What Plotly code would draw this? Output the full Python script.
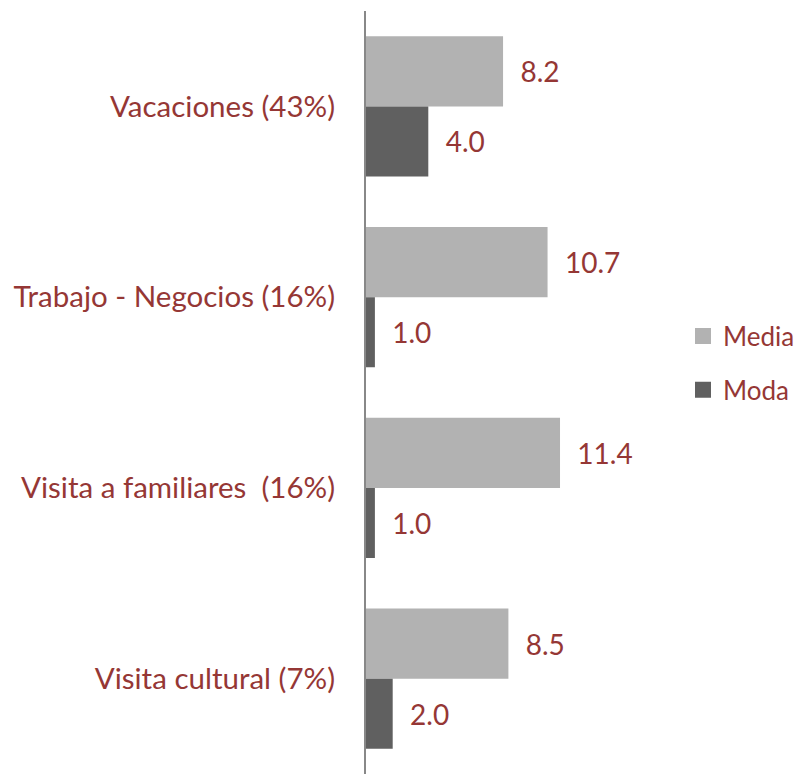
import plotly.graph_objects as go

categories = ["Vacaciones (43%)", "Trabajo - Negocios (16%)", "Visita a familiares  (16%)", "Visita cultural (7%)"]
media = [8.2, 10.7, 11.4, 8.5]
moda = [4.0, 1.0, 1.0, 2.0]

RED = "#953735"
C_MEDIA = "#b2b2b2"
C_MODA = "#606060"
FONT = "Lato"
FS = 28
FS_TICK = 29.5
FS_LEG = 26

W, H = 800, 766          # page body has an 8px margin
L, R, T = 358, 0, 3
PW = W - L - R
PXU = 17.8
XMIN = 0.5
XMAX = XMIN + PW / PXU

fig = go.Figure()
fig.add_trace(go.Bar(
    y=categories, x=media, orientation="h", name="Media",
    marker=dict(color=C_MEDIA, line=dict(width=0)),
    text=["\u00a0\u00a0" + f"{v:.1f}" for v in media], textposition="outside",
    textfont=dict(color=RED, size=FS, family=FONT), cliponaxis=False,
    showlegend=False,
))
fig.add_trace(go.Bar(
    y=categories, x=moda, orientation="h", name="Moda",
    marker=dict(color=C_MODA, line=dict(width=0)),
    text=["\u00a0\u00a0" + f"{v:.1f}" for v in moda], textposition="outside",
    textfont=dict(color=RED, size=FS, family=FONT), cliponaxis=False,
    showlegend=False,
))
for name, col in [("Media", C_MEDIA), ("Moda", C_MODA)]:
    fig.add_trace(go.Scatter(
        x=[None], y=[None], mode="markers", name=name, legendgroup=name,
        marker=dict(symbol="square", size=18, color=col),
    ))

fig.update_layout(
    width=W, height=H,
    margin=dict(l=L, r=R, t=T, b=0, autoexpand=False),
    paper_bgcolor="white", plot_bgcolor="white",
    barmode="group", bargap=0.266, bargroupgap=0,
    font=dict(family=FONT, size=FS, color=RED),
    showlegend=True,
    legend=dict(x=(675 - L) / PW, xanchor="left", y=(H - 355) / (H - T), yanchor="middle",
                traceorder="grouped", tracegroupgap=17,
                font=dict(size=FS_LEG, color=RED, family=FONT),
                bgcolor="rgba(0,0,0,0)"),
)
fig.update_xaxes(range=[XMIN, XMAX], visible=False, showgrid=False, zeroline=False)
fig.update_yaxes(categoryorder="array", categoryarray=categories,
                 autorange="reversed",
                 showline=True, linecolor="#888888", linewidth=2,
                 showgrid=False, zeroline=False, ticks="",
                 ticklabelstandoff=23,
                 tickfont=dict(size=FS_TICK, color=RED, family=FONT))

fig.write_html("out.html")
